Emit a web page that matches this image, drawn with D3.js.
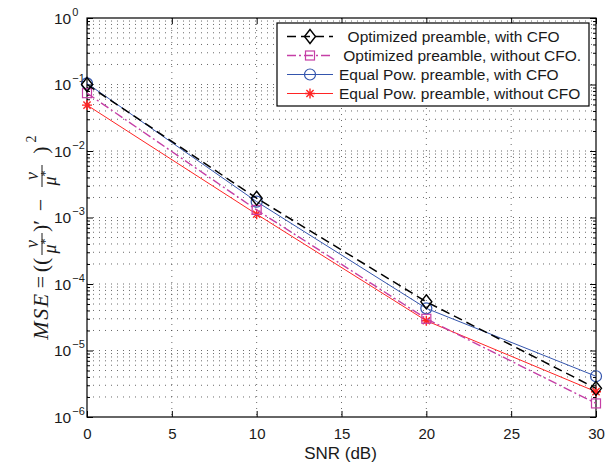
<!DOCTYPE html>
<html>
<head>
<meta charset="utf-8">
<script src="https://cdn.jsdelivr.net/npm/d3@7"></script>
<style>
body { margin: 0; background: #fff; }
svg text { font-family: "Liberation Sans", Arial, sans-serif; fill: #1a1a1a; }
</style>
</head>
<body>
<script>
// values (MSE vs SNR)
var snr = [0, 10, 20, 30];
var optWithCfo = [0.1, 1.95e-3, 5.4e-5, 2.7e-6];
var optNoCfo = [0.074, 1.3e-3, 3.0e-5, 1.6e-6];
var eqWithCfo = [0.104, 1.73e-3, 4.3e-5, 4.1e-6];
var eqNoCfo = [0.049, 1.12e-3, 2.8e-5, 2.4e-6];
var seriesNames = ["  Optimized preamble, with CFO", " Optimized preamble, without CFO.",
  "Equal Pow. preamble, with CFO", "Equal Pow. preamble, without CFO"];
var xTickValues = [0, 5, 10, 15, 20, 25, 30];
var yTickValues = [1e-6, 1e-5, 1e-4, 1e-3, 1e-2, 1e-1, 1];
var yTickExp = ["\u22126", "\u22125", "\u22124", "\u22123", "\u22122", "\u22121", "0"];

// look of each line (marker, colour, dash)
var looks = [
  {marker: "diamond", color: "#000000", dash: "9,5", width: 1.5},
  {marker: "square", color: "#c53fa6", dash: "9,3,2,3", width: 1.4},
  {marker: "circle", color: "#3455ad", dash: null, width: 1},
  {marker: "star", color: "#ff2424", dash: null, width: 1}
];
var allSeries = [optWithCfo, optNoCfo, eqWithCfo, eqNoCfo];

var width = 607, height = 466;
// note: "top" is taken by window.top, so plot edges get their own names
var pLeft = 87, pRight = 596, pTop = 18, pBottom = 417;

var svg = d3.select("body").append("svg")
  .attr("width", width)
  .attr("height", height);

var x = d3.scaleLinear().domain([0, 30]).range([pLeft, pRight]);
var y = d3.scaleLog().domain([1e-6, 1]).range([pBottom, pTop]);

//grid: dotted, every log minor on y, majors on x
var grid = svg.append("g")
  .attr("stroke", "#444")
  .attr("stroke-width", 0.8)
  .attr("stroke-dasharray", "1,5");

grid.selectAll(".hg")
  .data(y.ticks().filter(function(d) { return d > 1e-6 && d < 1; }))
  .enter().append("line")
  .attr("x1", pLeft).attr("x2", pRight)
  .attr("y1", function(d) { return y(d); })
  .attr("y2", function(d) { return y(d); });

grid.selectAll(".vg")
  .data(xTickValues.slice(1, -1))
  .enter().append("line")
  .attr("y1", pTop).attr("y2", pBottom)
  .attr("x1", function(d) { return x(d); })
  .attr("x2", function(d) { return x(d); });

// ticks on all four sides, pointing in
function tickAxis(axis, tx, ty) {
  var g = svg.append("g").attr("transform", "translate(" + tx + "," + ty + ")").call(axis);
  g.select(".domain").remove();
  g.selectAll("line").attr("stroke", "#000");
  return g;
}
var minorY = y.ticks().filter(function(d) { return yTickValues.indexOf(d) < 0; });

var xb = tickAxis(d3.axisBottom(x).tickValues(xTickValues).tickSize(-6).tickPadding(11), 0, pBottom);
xb.selectAll("text").attr("font-size", 15).attr("font-family", null);
tickAxis(d3.axisTop(x).tickValues(xTickValues).tickSize(-6).tickFormat(""), 0, pTop);
tickAxis(d3.axisLeft(y).tickValues(yTickValues).tickSize(-6).tickFormat(""), pLeft, 0);
tickAxis(d3.axisLeft(y).tickValues(minorY).tickSize(-3).tickFormat(""), pLeft, 0);
tickAxis(d3.axisRight(y).tickValues(yTickValues).tickSize(-6).tickFormat(""), pRight, 0);
tickAxis(d3.axisRight(y).tickValues(minorY).tickSize(-3).tickFormat(""), pRight, 0);

// y labels 10^k
var yl = svg.append("g").selectAll("text")
  .data(yTickValues)
  .enter().append("text")
  .attr("x", 54)
  .attr("y", function(d) { return y(d) + 5.5; })
  .attr("font-size", 15.5);
yl.append("tspan").text("10");
yl.append("tspan")
  .attr("font-size", 11)
  .attr("dy", -8)
  .attr("dx", 1)
  .text(function(d, i) { return yTickExp[i]; });

svg.append("rect")
  .attr("x", pLeft).attr("y", pTop)
  .attr("width", pRight - pLeft).attr("height", pBottom - pTop)
  .attr("fill", "none").attr("stroke", "#000").attr("stroke-width", 1.2);

// x label
svg.append("text")
  .attr("x", (pLeft + pRight) / 2 - 1)
  .attr("y", 459)
  .attr("text-anchor", "middle")
  .attr("font-size", 17)
  .text("SNR (dB)");

//markers
function marker(g, type, cx, cy, color) {
  if (type == "diamond") {
    g.append("path")
      .attr("d", "M" + cx + "," + (cy - 7) + "L" + (cx + 5.5) + "," + cy + "L" + cx + "," + (cy + 7) + "L" + (cx - 5.5) + "," + cy + "Z")
      .attr("fill", "none").attr("stroke", color).attr("stroke-width", 1.4);
  } else if (type == "square") {
    g.append("rect")
      .attr("x", cx - 4.5).attr("y", cy - 4.5).attr("width", 9).attr("height", 9)
      .attr("fill", "none").attr("stroke", color).attr("stroke-width", 1.2);
  } else if (type == "circle") {
    g.append("circle")
      .attr("cx", cx).attr("cy", cy).attr("r", 5.5)
      .attr("fill", "none").attr("stroke", color).attr("stroke-width", 1.2);
  } else {
    var r = 5, q = 3.6;
    g.append("path")
      .attr("d", "M" + (cx - r) + "," + cy + "H" + (cx + r) + "M" + cx + "," + (cy - r) + "V" + (cy + r)
        + "M" + (cx - q) + "," + (cy - q) + "L" + (cx + q) + "," + (cy + q)
        + "M" + (cx - q) + "," + (cy + q) + "L" + (cx + q) + "," + (cy - q))
      .attr("fill", "none").attr("stroke", color).attr("stroke-width", 1.4);
  }
}

var line = d3.line()
  .x(function(d, i) { return x(snr[i]); })
  .y(function(d) { return y(d); });

// draw lower ones first so black ends on top
[3, 2, 1, 0].forEach(function(s) {
  var lk = looks[s];
  var g = svg.append("g");
  g.append("path")
    .attr("d", line(allSeries[s]))
    .attr("fill", "none")
    .attr("stroke", lk.color)
    .attr("stroke-width", lk.width)
    .attr("stroke-dasharray", lk.dash);
  allSeries[s].forEach(function(v, i) {
    marker(g, lk.marker, x(snr[i]), y(v), lk.color);
  });
});

// legend
var lg = svg.append("g");
lg.append("rect")
  .attr("x", 277).attr("y", 23).attr("width", 312).attr("height", 83)
  .attr("fill", "#fff").attr("stroke", "#000").attr("stroke-width", 1.2);
seriesNames.forEach(function(name, i) {
  var ly = 42 + i * 19;
  var lk = looks[i];
  lg.append("line")
    .attr("x1", 287).attr("x2", 333)
    .attr("y1", ly - 5.5).attr("y2", ly - 5.5)
    .attr("stroke", lk.color)
    .attr("stroke-width", lk.width)
    .attr("stroke-dasharray", lk.dash);
  marker(lg, lk.marker, 310, ly - 5.5, lk.color);
  lg.append("text")
    .attr("x", 339).attr("y", ly)
    .attr("font-size", 15.5)
    .style("white-space", "pre")
    .text(name);
});

// y label: MSE = ((v/mu*)' - v/mu*)^2, built piece by piece
var yLab = svg.append("g")
  .attr("transform", "translate(48,0) rotate(-90)")
  .style("font-family", "'Liberation Serif', 'Times New Roman', serif");

function piece(str, at, size, italic, dy) {
  return yLab.append("text")
    .attr("x", -at).attr("y", dy || 0)
    .attr("text-anchor", "middle")
    .attr("font-size", size)
    .style("font-family", "inherit")
    .style("font-style", italic ? "italic" : "normal")
    .text(str);
}
function frac(at) {
  piece("\u03bd", at, 18, true, -10);
  var den = piece("\u03bc", at + 2, 18, true, 8);
  den.append("tspan").attr("dy", -7).attr("font-size", 12).style("font-style", "normal").text("*");
  yLab.append("line")
    .attr("x1", -(at - 11)).attr("x2", -(at + 11))
    .attr("y1", -6).attr("y2", -6)
    .attr("stroke", "#1a1a1a").attr("stroke-width", 1);
}
piece("MSE", 316, 22, true).attr("letter-spacing", 1.5);
piece("=", 282, 22);
piece("((", 265, 22);
frac(244);
piece(")\u2032", 226, 22);
piece("\u2212", 205, 22);
frac(176);
piece(")", 150, 22);
piece("2", 139, 14, false, -12);
</script>
</body>
</html>
